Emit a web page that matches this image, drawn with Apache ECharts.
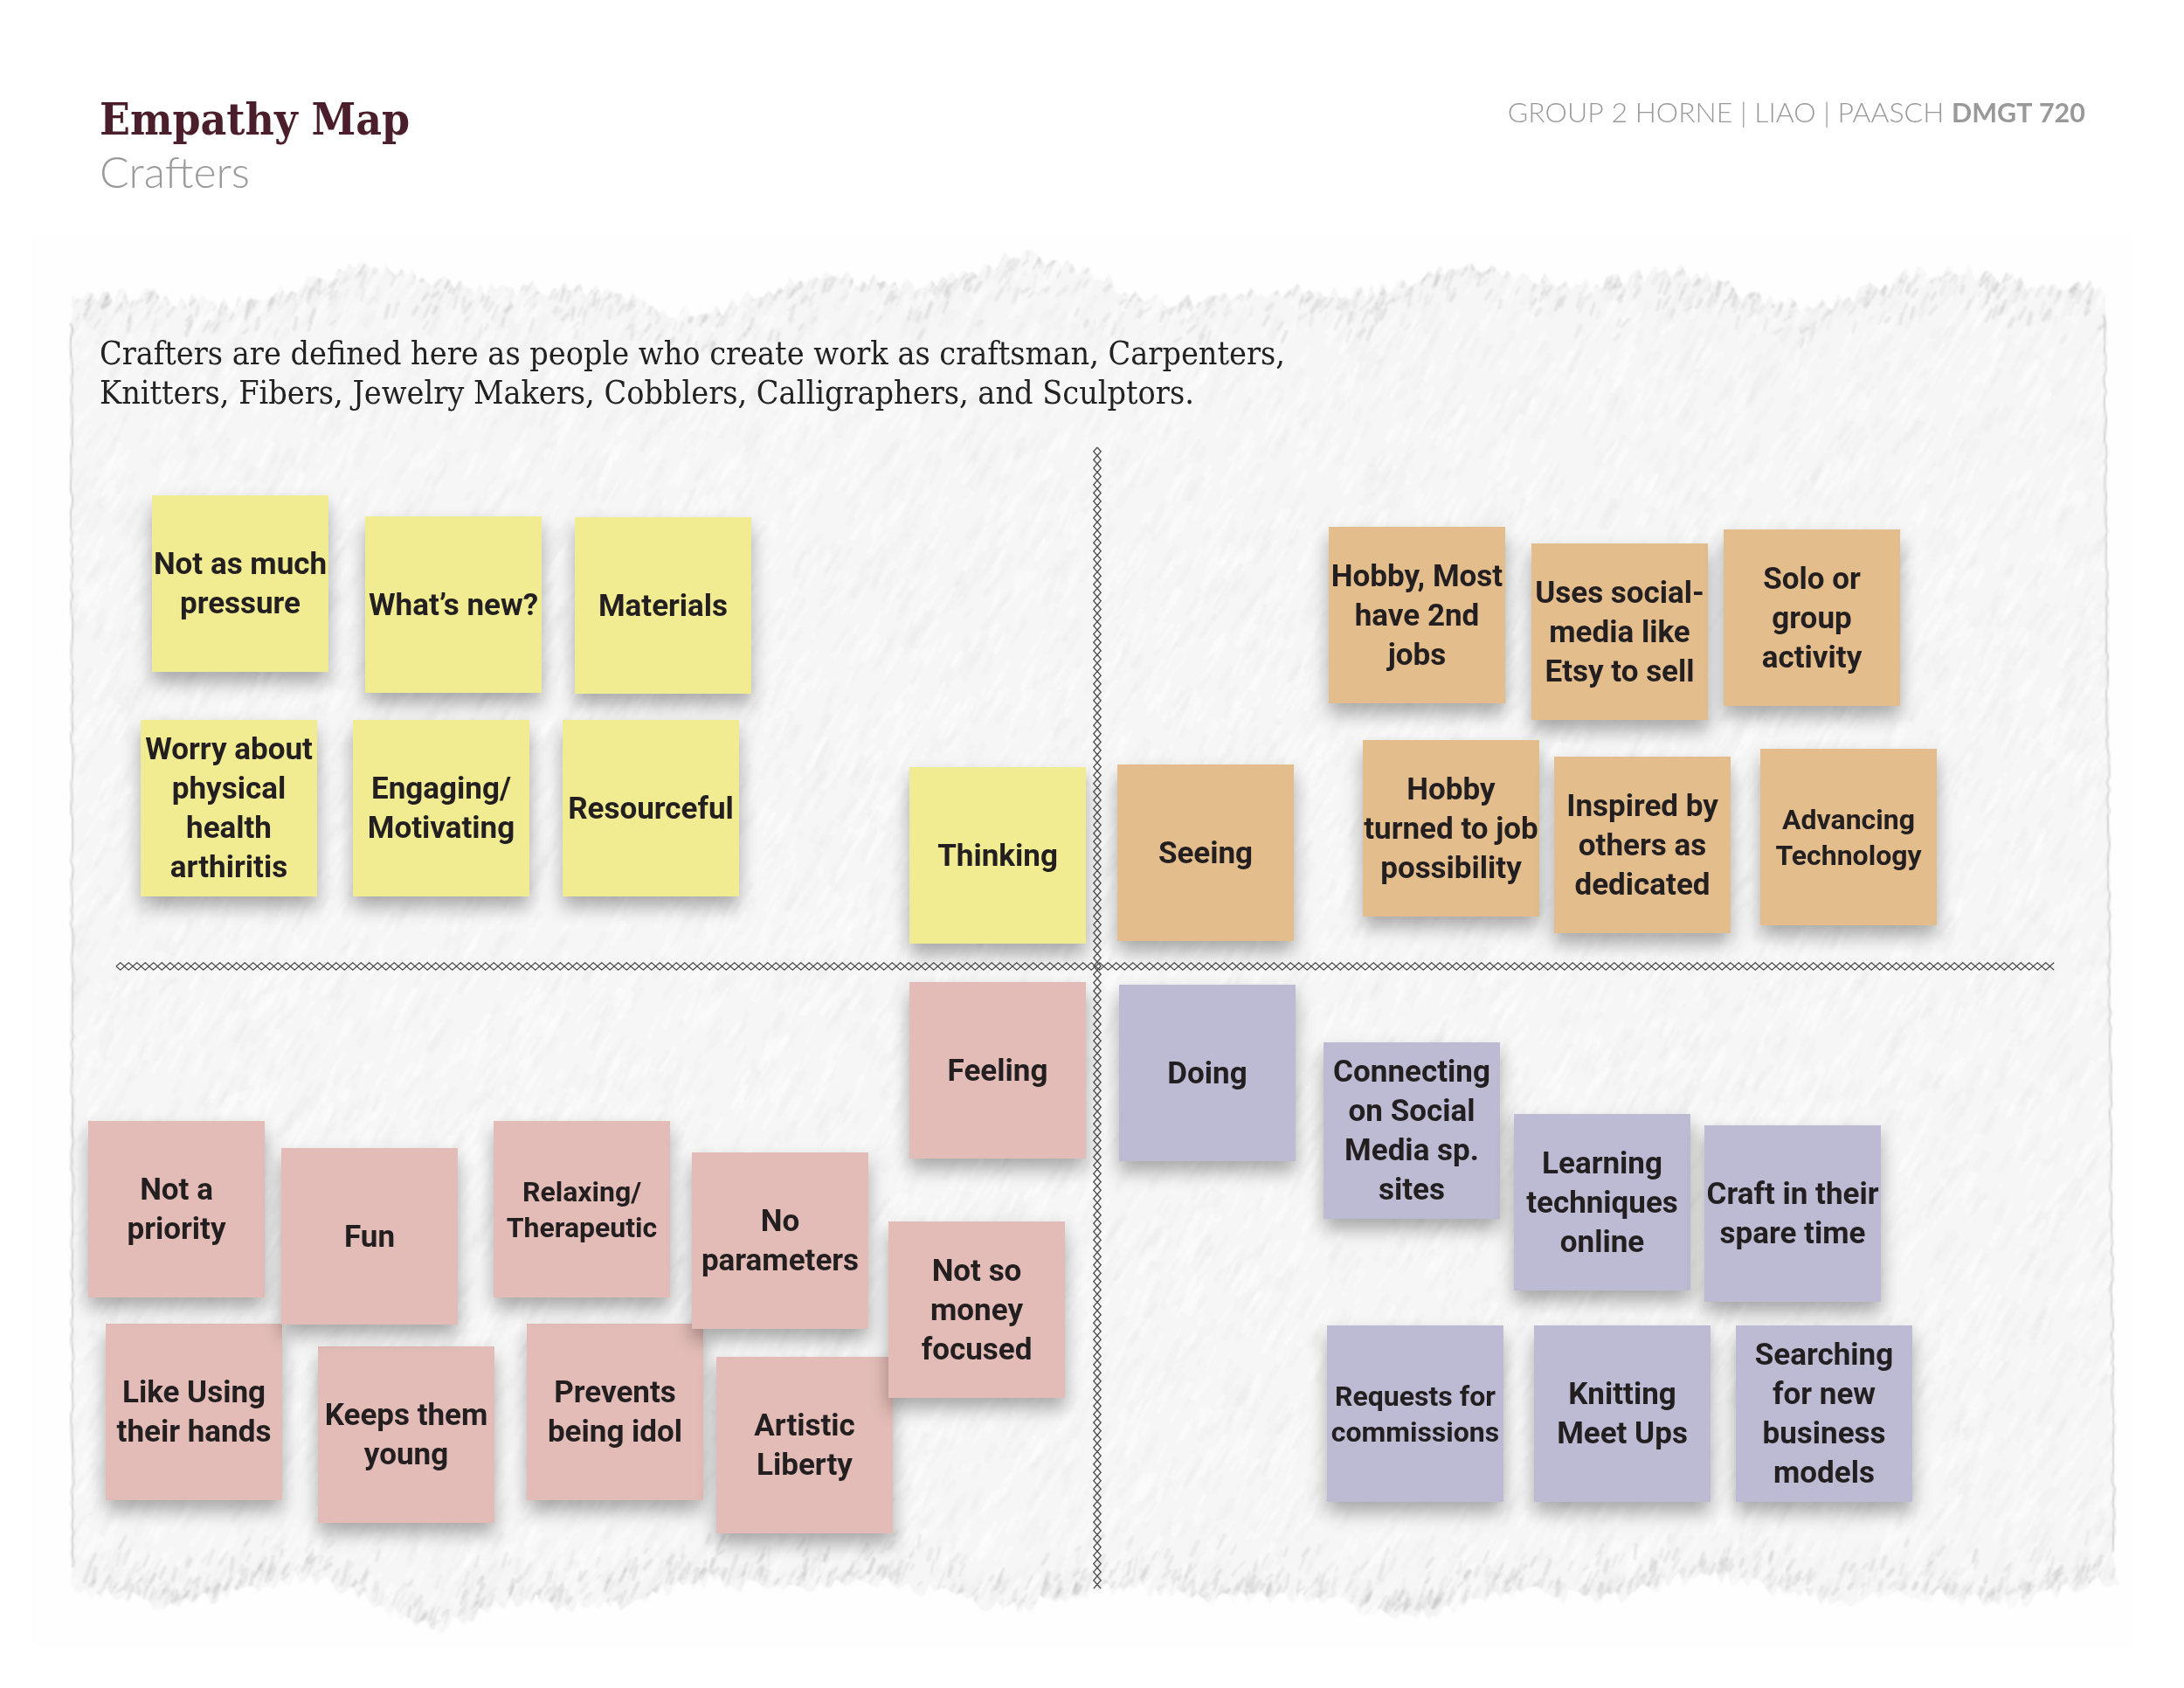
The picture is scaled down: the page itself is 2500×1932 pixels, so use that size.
<!DOCTYPE html>
<html>
<head>
<meta charset="utf-8">
<title>Empathy Map</title>
<script src="https://cdn.jsdelivr.net/npm/echarts@6/dist/echarts.min.js"></script>
<style>
  html, body { margin: 0; padding: 0; background: #fff; }
  #main { width: 2500px; height: 1932px; }
</style>
</head>
<body>
<div id="main"></div>
<script>
// texts
var titleText = 'Empathy Map';
var subtitleText = 'Crafters';
var groupText = 'GROUP 2 HORNE | LIAO | PAASCH ';
var courseText = 'DMGT 720';
var introText = 'Crafters are defined here as people who create work as craftsman, Carpenters,\n' +
  'Knitters, Fibers, Jewelry Makers, Cobblers, Calligraphers, and Sculptors.';

// notes per quadrant (centre of each note, page pixels)
var thinkingLabels = ['Not as much\npressure', 'What\u2019s new?', 'Materials', 'Worry about\nphysical\nhealth\narthiritis', 'Engaging/\nMotivating', 'Resourceful', 'Thinking'];
var thinkingX = [275, 519, 759, 262, 505, 745, 1142];
var thinkingY = [668, 692, 693, 925, 925, 925, 979];

var seeingLabels = ['Hobby, Most\nhave 2nd\njobs', 'Uses social-\nmedia like\nEtsy to sell', 'Solo or\ngroup\nactivity', 'Hobby\nturned to job\npossibility', 'Inspired by\nothers as\ndedicated', 'Advancing\nTechnology', 'Seeing'];
var seeingX = [1622, 1854, 2074, 1661, 1880, 2116, 1380];
var seeingY = [704, 723, 707, 948, 967, 958, 976];

// bottom row first, the upper notes lie on top of it
var feelingLabels = ['Like Using\ntheir hands', 'Keeps them\nyoung', 'Prevents\nbeing idol', 'Artistic\nLiberty', 'Not a\npriority', 'Fun', 'Relaxing/\nTherapeutic', 'No\nparameters', 'Not so\nmoney\nfocused', 'Feeling'];
var feelingX = [222, 465, 704, 921, 202, 423, 666, 893, 1118, 1142];
var feelingY = [1616, 1642, 1616, 1654, 1384, 1415, 1384, 1420, 1499, 1225];

var doingLabels = ['Connecting\non Social\nMedia sp.\nsites', 'Learning\ntechniques\nonline', 'Craft in their\nspare time', 'Requests for\ncommissions', 'Knitting\nMeet Ups', 'Searching\nfor new\nbusiness\nmodels', 'Doing'];
var doingX = [1616, 1834, 2052, 1620, 1857, 2088, 1382];
var doingY = [1294, 1376, 1389, 1618, 1618, 1618, 1228];

// the two dividers: x0, y0, x1, y1
var dividers = [
  [133, 1106, 2355, 1106],
  [1256, 512, 1256, 1820]
];

var smallNotes = ['Relaxing/\nTherapeutic', 'Advancing\nTechnology', 'Requests for\ncommissions'];

// paper backdrop, only decoration (no data in it). Painted at half size so it
// comes out soft when scaled up
function paintPaper() {
  var c = document.createElement('canvas');
  c.width = 1250;
  c.height = 966;
  var ctx = c.getContext('2d');
  ctx.scale(0.5, 0.5);
  var seed = 20240;
  function rnd() {
    seed = (seed * 16807) % 2147483647;
    return seed / 2147483647;
  }
  ctx.fillStyle = '#ffffff';
  ctx.fillRect(0, 0, 2500, 1932);
  ctx.fillStyle = '#fefefe';
  ctx.fillRect(36, 270, 2404, 1613);

  function topEdge(x) {
    return 332 + 16 * Math.sin(x / 97) + 10 * Math.sin(x / 41 + 1) - 30 * Math.exp(-Math.pow((x - 1900) / 90, 2)) - 26 * Math.exp(-Math.pow((x - 1230) / 110, 2));
  }
  function bottomEdge(x) {
    return 1822 + 10 * Math.sin(x / 83) + 8 * Math.sin(x / 37 + 2) + 42 * Math.exp(-Math.pow((x - 500) / 70, 2)) + 20 * Math.exp(-Math.pow((x - 1500) / 140, 2));
  }
  var pts = [];
  var x, y;
  for (x = 82; x <= 2409; x += 6) pts.push([x, topEdge(x) + (rnd() - 0.5) * 20]);
  for (y = 340; y <= 1810; y += 12) pts.push([2409 + 11 * (y - 340) / 1470 + (rnd() - 0.5) * 4, y]);
  for (x = 2426; x >= 82; x -= 6) pts.push([x, bottomEdge(x) + (rnd() - 0.5) * 20]);
  for (y = 1810; y >= 340; y -= 12) pts.push([82 + (rnd() - 0.5) * 4, y]);

  ctx.save();
  ctx.beginPath();
  pts.forEach(function (p, i) { i ? ctx.lineTo(p[0], p[1]) : ctx.moveTo(p[0], p[1]); });
  ctx.closePath();
  ctx.fillStyle = '#f6f6f6';
  ctx.fill();
  ctx.clip();

  // fibre streaks
  ctx.lineCap = 'round';
  for (var i = 0; i < 15000; i++) {
    var sx = 60 + rnd() * 2400, sy = 260 + rnd() * 1620, len = 8 + rnd() * 26;
    var ang = -1.05 + (rnd() - 0.5) * 0.3;
    ctx.strokeStyle = rnd() < 0.6 ? 'rgba(255,255,255,0.4)' : 'rgba(232,232,232,0.22)';
    ctx.lineWidth = 3 + rnd() * 5;
    ctx.beginPath();
    ctx.moveTo(sx, sy);
    ctx.lineTo(sx + Math.cos(ang) * len, sy + Math.sin(ang) * len);
    ctx.stroke();
  }
  // darker flecks along the torn top and bottom
  for (i = 0; i < 1800; i++) {
    var fx = 82 + rnd() * 2340;
    var isTop = rnd() < 0.5;
    var fy = isTop ? topEdge(fx) + rnd() * rnd() * 70 : bottomEdge(fx) - rnd() * rnd() * 60;
    ctx.strokeStyle = 'rgba(165,165,165,' + (0.06 + rnd() * 0.16) + ')';
    ctx.lineWidth = 2 + rnd() * 3;
    ctx.beginPath();
    ctx.moveTo(fx, fy);
    ctx.lineTo(fx + 2 + rnd() * 6, fy - 4 - rnd() * 12);
    ctx.stroke();
  }
  ctx.restore();

  // thin torn lines on the left and right side
  ctx.strokeStyle = 'rgba(170,170,170,0.5)';
  ctx.lineWidth = 2;
  [[82, 83, 370, 1800], [2409, 2420, 360, 1780]].forEach(function (s) {
    ctx.beginPath();
    for (var yy = s[2]; yy <= s[3]; yy += 8) {
      var xx = s[0] + (s[1] - s[0]) * (yy - s[2]) / (s[3] - s[2]) + (rnd() - 0.5) * 3;
      yy === s[2] ? ctx.moveTo(xx, yy) : ctx.lineTo(xx, yy);
    }
    ctx.stroke();
  });
  return c;
}

function noteSeries(name, color, labels, xs, ys) {
  return {
    name: name,
    type: 'scatter',
    symbol: 'rect',
    symbolSize: 202,
    z: 2,
    itemStyle: {
      color: color,
      opacity: 1,
      shadowColor: 'rgba(0,0,0,0.32)',
      shadowBlur: 20,
      shadowOffsetY: 12
    },
    label: {
      show: true,
      position: 'inside',
      offset: [0, 3],
      formatter: '{b}',
      color: '#231f20',
      fontFamily: 'Roboto',
      fontWeight: 'bold',
      fontSize: 35,
      lineHeight: 45,
      align: 'center',
      verticalAlign: 'middle'
    },
    data: labels.map(function (l, i) {
      var item = { name: l, value: [xs[i], ys[i]] };
      if (smallNotes.indexOf(l) >= 0) {
        item.label = { fontSize: 32, lineHeight: 41 };
      }
      return item;
    })
  };
}

var myChart = echarts.init(document.getElementById('main'));

myChart.setOption({
  animation: false,
  backgroundColor: '#ffffff',
  graphic: [{
    type: 'image',
    silent: true,
    z: -10,
    left: 0,
    top: 0,
    style: { image: paintPaper(), width: 2500, height: 1932 }
  }],
  title: [
    {
      text: titleText, left: 114, top: 115, padding: 0,
      textStyle: { fontFamily: 'DejaVu Serif Condensed', fontWeight: 'bold', fontSize: 51, color: '#4a1e2b' }
    },
    {
      text: subtitleText, left: 114, top: 174, padding: 0,
      textStyle: { fontFamily: 'Lato', fontWeight: 300, fontSize: 50, color: '#9a9a9a' }
    },
    {
      text: '{a|' + groupText + '}{b|' + courseText + '}', right: 113, top: 114, padding: 0,
      textStyle: {
        rich: {
          a: { fontFamily: 'Lato', fontWeight: 300, fontSize: 32, color: '#999999' },
          b: { fontFamily: 'Lato', fontWeight: 'bold', fontSize: 30.5, color: '#999999' }
        }
      }
    },
    {
      text: introText, left: 114, top: 385, padding: 0,
      textStyle: { fontFamily: 'DejaVu Serif Condensed', fontWeight: 'normal', fontSize: 37.4, lineHeight: 45, color: '#222222' }
    }
  ],
  grid: { left: 0, right: 0, top: 0, bottom: 0 },
  xAxis: { type: 'value', min: 0, max: 2500, show: false },
  yAxis: { type: 'value', min: 0, max: 1932, inverse: true, show: false },
  series: [
    {
      name: 'dividers',
      type: 'custom',
      z: 3,
      silent: true,
      clip: false,
      encode: { x: [0, 2], y: [1, 3] },
      data: dividers,
      renderItem: function (params, api) {
        var a = api.coord([api.value(0), api.value(1)]);
        var b = api.coord([api.value(2), api.value(3)]);
        var horizontal = a[1] === b[1];
        var length = horizontal ? b[0] - a[0] : b[1] - a[1];
        var step = 4.75, half = 4.2;
        var upper = [], lower = [];
        for (var d = 0, k = 0; d <= length; d += step, k++) {
          var off = k % 2 ? half : 0;
          upper.push(horizontal ? [a[0] + d, a[1] - off] : [a[0] - off, a[1] + d]);
          lower.push(horizontal ? [a[0] + d, a[1] + off] : [a[0] + off, a[1] + d]);
        }
        var lineStyle = { fill: null, stroke: '#4d4d4d', lineWidth: 1.3 };
        return {
          type: 'group',
          children: [
            { type: 'polyline', shape: { points: upper }, style: lineStyle },
            { type: 'polyline', shape: { points: lower }, style: lineStyle }
          ]
        };
      }
    },
    noteSeries('Thinking', '#f1ec92', thinkingLabels, thinkingX, thinkingY),
    noteSeries('Seeing', '#e4bd8c', seeingLabels, seeingX, seeingY),
    noteSeries('Feeling', '#e3bcb7', feelingLabels, feelingX, feelingY),
    noteSeries('Doing', '#bdbbd3', doingLabels, doingX, doingY)
  ]
});
</script>
</body>
</html>
